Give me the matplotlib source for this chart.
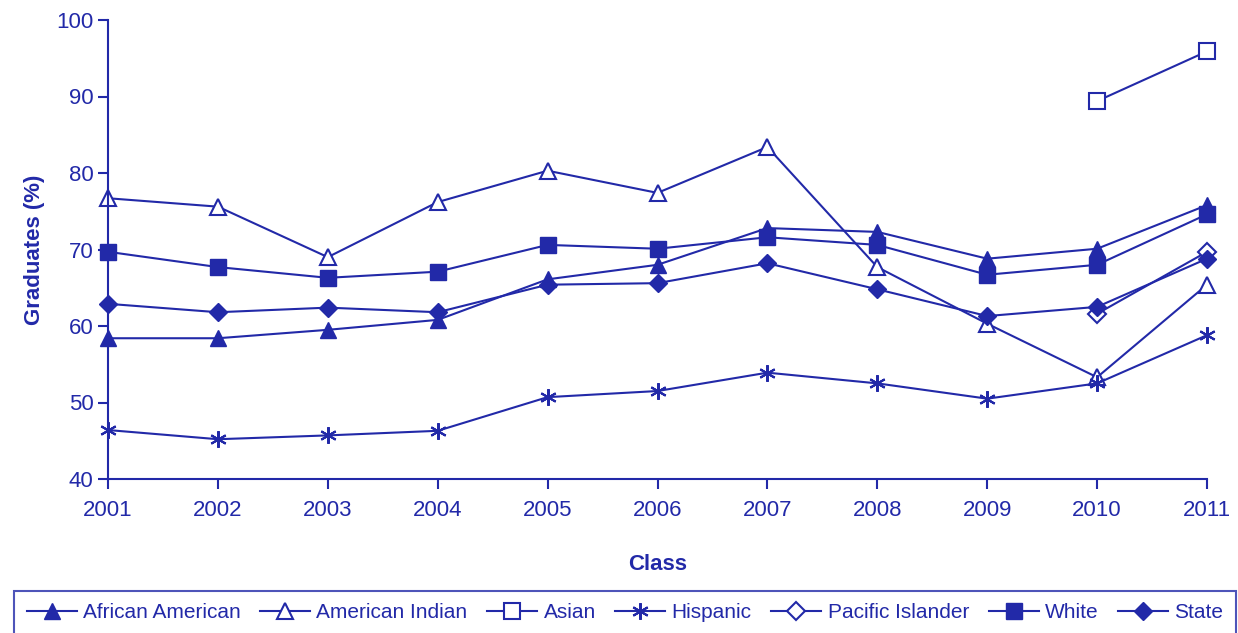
import numpy as np
import matplotlib.pyplot as plt

plt.rcParams['font.family'] = ['Liberation Sans Narrow', 'Liberation Sans', 'DejaVu Sans']

years = list(range(2001, 2012))
nan = np.nan

african_american = [58.4, 58.4, 59.5, 60.8, 66.1, 68.0, 72.8, 72.3, 68.8, 70.1, 75.8]
american_indian = [76.7, 75.6, 69.0, 76.2, 80.3, 77.4, 83.4, 67.7, 60.3, 53.3, 65.4]
asian = [nan, nan, nan, nan, nan, nan, nan, nan, nan, 89.4, 95.9]
hispanic = [46.4, 45.2, 45.7, 46.3, 50.7, 51.5, 53.9, 52.5, 50.5, 52.5, 58.8]
pacific_islander = [nan, nan, nan, nan, nan, nan, nan, nan, nan, 61.6, 69.7]
white = [69.7, 67.7, 66.3, 67.1, 70.6, 70.1, 71.6, 70.6, 66.7, 68.0, 74.6]
state = [62.9, 61.8, 62.4, 61.8, 65.4, 65.6, 68.2, 64.8, 61.3, 62.5, 68.8]

c = '#2229a8'

fig = plt.figure(figsize=(12.38, 6.33), dpi=100)
ax = fig.add_axes([108/1238, 1-479/633, (1207-108)/1238, (479-20)/633])

kw = dict(color=c, lw=1.5, clip_on=False)
ax.plot(years, african_american, marker='^', ms=12, mfc=c, mec=c, label='African American', **kw)
ax.plot(years, american_indian, marker='^', ms=12, mfc='white', mec=c, mew=1.5, label='American Indian', **kw)
ax.plot(years, asian, marker='s', ms=11, mfc='white', mec=c, mew=1.5, label='Asian', **kw)
ax.plot(years, hispanic, marker=(6, 2, 0), ms=12, mec=c, mew=1.5, label='Hispanic', **kw)
ax.plot(years, pacific_islander, marker='D', ms=9, mfc='white', mec=c, mew=1.5, label='Pacific Islander', **kw)
ax.plot(years, white, marker='s', ms=11, mfc=c, mec=c, label='White', **kw)
ax.plot(years, state, marker='D', ms=9, mfc=c, mec=c, label='State', **kw)

ax.set_xlim(2001, 2011)
ax.set_ylim(40, 100)
ax.set_xticks(years)
ax.set_yticks(range(40, 101, 10))
for s in ['top', 'right']:
    ax.spines[s].set_visible(False)
for s in ['left', 'bottom']:
    ax.spines[s].set_color(c)
    ax.spines[s].set_linewidth(1.5)
ax.tick_params(colors=c, labelsize=16, width=1.5, length=7, direction='out')
ax.tick_params(axis='x', pad=8)
ax.set_xlabel('Class', fontsize=16, fontweight='bold', color=c, labelpad=24)
ax.set_ylabel('Graduates (%)', fontsize=16, fontweight='bold', color=c, labelpad=8)

leg = fig.legend(loc='upper left', bbox_to_anchor=(14/1238, 1-591/633, (1236-14)/1238, 0),
                 mode='expand', ncol=7, fontsize=15, frameon=True, fancybox=False,
                 handlelength=2.4, handletextpad=0.3, columnspacing=0.8,
                 borderaxespad=0, borderpad=0.6)
leg.get_frame().set_edgecolor(c)
leg.get_frame().set_linewidth(1.5)
for t in leg.get_texts():
    t.set_color(c)

fig.savefig('out.png', dpi=100)
